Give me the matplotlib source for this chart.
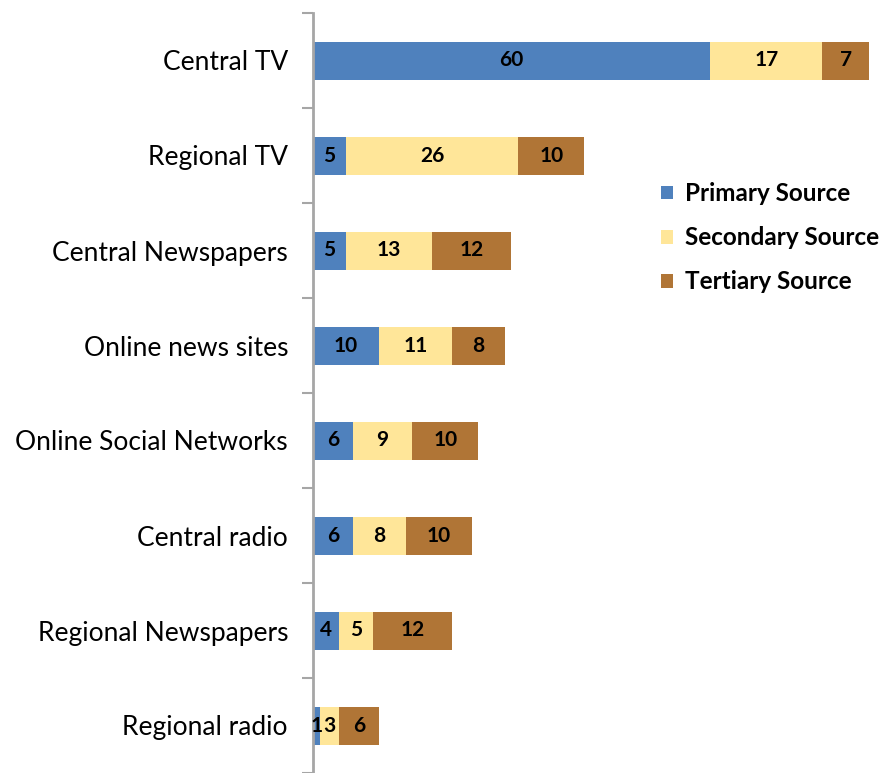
import numpy as np
import matplotlib.pyplot as plt

categories = ["Central TV", "Regional TV", "Central Newspapers", "Online news sites",
              "Online Social Networks", "Central radio", "Regional Newspapers", "Regional radio"]
primary = [60, 5, 5, 10, 6, 6, 4, 1]
secondary = [17, 26, 13, 11, 9, 8, 5, 3]
tertiary = [7, 10, 12, 8, 10, 10, 12, 6]

series = [("Primary Source", primary, "#4F81BD"),
          ("Secondary Source", secondary, "#FFE699"),
          ("Tertiary Source", tertiary, "#B07536")]

plt.rcParams['font.family'] = ['Lato', 'DejaVu Sans']

fig = plt.figure(figsize=(8.84, 7.73), dpi=100)
ax = fig.add_axes([313 / 884, 0.0, 571 / 884, 1 - 13 / 773])

y = np.arange(len(categories))
left = np.zeros(len(categories))
for name, vals, color in series:
    vals = np.array(vals, dtype=float)
    bars = ax.barh(y, vals, left=left, height=0.4, color=color, label=name)
    for b, v in zip(bars, vals):
        ax.text(b.get_x() + b.get_width() / 2, b.get_y() + b.get_height() / 2,
                f"{int(v)}", ha="center", va="center", fontsize=15,
                fontweight="bold", color="black")
    left += vals

ax.set_ylim(len(categories) - 0.5, -0.5)
ax.set_xlim(0, 86.3)

ax.set_yticks(y)
ax.set_yticklabels(categories, fontsize=19)
ax.tick_params(axis="y", length=0, pad=18)
ax.set_yticks(np.arange(-0.5, len(categories), 1.0), minor=True)
ax.tick_params(axis="y", which="minor", length=8, width=1.5, color="#A6A6A6")
ax.set_xticks([])

for s in ["top", "right", "bottom"]:
    ax.spines[s].set_visible(False)
ax.spines["left"].set_color("#A6A6A6")
ax.spines["left"].set_linewidth(2)

leg = ax.legend(loc="upper left", bbox_to_anchor=(0.575, 0.803), frameon=False,
                prop={"size": 17.5, "weight": "bold"}, handlelength=0.5,
                handleheight=0.5, handletextpad=0.5, labelspacing=0.87,
                borderpad=0.3)

fig.savefig("out.png", dpi=100)
